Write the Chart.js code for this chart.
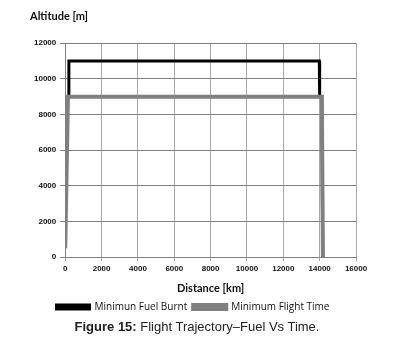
<!DOCTYPE html>
<html>
<head>
<meta charset="utf-8">
<script src="https://cdn.jsdelivr.net/npm/chart.js@4"></script>
<style>
  body { margin: 0; background: #fff; width: 394px; height: 344px; overflow: hidden; }
  #wrap { position: absolute; left: 0; top: 0; width: 394px; height: 322px; }
  #caption { position: absolute; left: 0; top: 319px; width: 394px; text-align: center;
    font-family: "Liberation Sans", Arial, sans-serif; font-size: 13px; color: #222; }
</style>
</head>
<body>
<div id="wrap"><canvas id="trajChart"></canvas></div>
<div id="caption"><b>Figure 15:</b> Flight Trajectory–Fuel Vs Time.</div>
<script>
const seriesNames = ["Minimun Fuel Burnt", "Minimum Flight Time"];
const fuelDistance = [150, 200, 200, 13980, 14000, 14120, 14170];
const fuelAltitude = [9000, 9000, 11000, 11000, 9000, 9000, 0];
const timeDistance = [0, 150, 14120, 14180];
const timeAltitude = [500, 9000, 9000, 0];
const xTicks = [0, 2000, 4000, 6000, 8000, 10000, 12000, 14000, 16000];
const yTicks = [0, 2000, 4000, 6000, 8000, 10000, 12000];

function toPoints(xs, ys) {
    return xs.map(function (x, i) { return { x: x, y: ys[i] }; });
}

const tickFont = { family: "Liberation Sans", size: 8, weight: "bold" };
const plainLabel = function (value) { return String(value); };

new Chart(document.getElementById("trajChart"), {
    type: "scatter",
    data: {
        datasets: [{
            label: seriesNames[0],
            data: toPoints(fuelDistance, fuelAltitude),
            showLine: true,
            borderColor: "#000000",
            backgroundColor: "#000000",
            borderWidth: 3,
            pointRadius: 0,
            order: 1
        }, {
            label: seriesNames[1],
            data: toPoints(timeDistance, timeAltitude),
            showLine: true,
            borderColor: "#808080",
            backgroundColor: "#808080",
            borderWidth: 4,
            pointRadius: 0,
            order: 0
        }]
    },
    options: {
        responsive: true,
        maintainAspectRatio: false,
        animation: false,
        layout: { padding: { left: 30, right: 38, top: 0, bottom: 0 } },
        plugins: {
            title: {
                display: true,
                text: "Altitude [m]",
                align: "start",
                color: "#111",
                font: { family: "Lato", size: 11, weight: "bold" },
                padding: { top: 10, bottom: 20 }
            },
            legend: {
                position: "bottom",
                labels: {
                    boxWidth: 33,
                    boxHeight: 4,
                    padding: 6,
                    color: "#111",
                    font: { family: "Open Sans", size: 10 },
                    sort: function (a, b) { return a.datasetIndex - b.datasetIndex; }
                }
            },
            tooltip: { enabled: false }
        },
        scales: {
            x: {
                type: "linear",
                min: 0,
                max: 16000,
                afterBuildTicks: function (axis) { axis.ticks = xTicks.map(function (v) { return { value: v }; }); },
                ticks: { color: "#111", font: tickFont, maxRotation: 0, padding: 3, callback: plainLabel },
                grid: { color: "#a8a8a8", lineWidth: 1, tickLength: 4 },
                border: { color: "#808080" },
                title: {
                    display: true,
                    text: "Distance [km]",
                    color: "#111",
                    font: { family: "Lato", size: 11, weight: "bold" },
                    padding: { top: 5, bottom: 1 }
                }
            },
            y: {
                min: 0,
                max: 12000,
                afterBuildTicks: function (axis) { axis.ticks = yTicks.map(function (v) { return { value: v }; }); },
                ticks: { color: "#111", font: tickFont, padding: 4, callback: plainLabel },
                grid: { color: "#808080", lineWidth: 1, tickLength: 5 },
                border: { color: "#808080" }
            }
        }
    }
});
</script>
</body>
</html>
